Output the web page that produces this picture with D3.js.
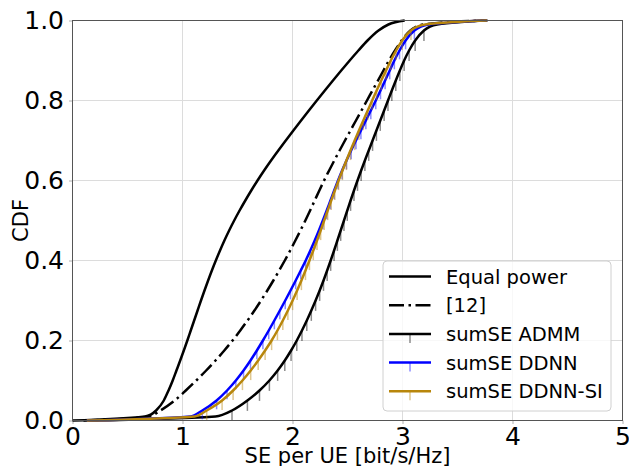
<!DOCTYPE html>
<html>
<head>
<meta charset="utf-8">
<script src="https://cdn.jsdelivr.net/npm/d3@7"></script>
<style>
  body { margin: 0; background: #fff; }
  svg { font-family: "DejaVu Sans", sans-serif; display: block; }
</style>
</head>
<body>
<div id="chart"></div>
<script>
// CDF levels shared by every curve (y values)
var cdfLevels = [0, 0.01, 0.025, 0.05, 0.075, 0.1, 0.125, 0.15, 0.175, 0.2,
  0.225, 0.25, 0.275, 0.3, 0.325, 0.35, 0.375, 0.4, 0.425, 0.45,
  0.475, 0.5, 0.525, 0.55, 0.575, 0.6, 0.625, 0.65, 0.675, 0.7,
  0.725, 0.75, 0.775, 0.8, 0.825, 0.85, 0.875, 0.9, 0.925, 0.95,
  0.975, 0.99, 1];

// SE per UE [bit/s/Hz] at each CDF level
var equalPower = [0.0, 0.66, 0.76, 0.83, 0.873, 0.911, 0.945, 0.979, 1.012, 1.044,
  1.075, 1.106, 1.137, 1.168, 1.2, 1.233, 1.267, 1.303, 1.341, 1.381,
  1.424, 1.47, 1.519, 1.571, 1.625, 1.682, 1.742, 1.805, 1.871, 1.939,
  2.008, 2.078, 2.149, 2.221, 2.294, 2.368, 2.443, 2.52, 2.599, 2.682,
  2.782, 2.872, 3.02];
var ref12 = [0.1, 0.7, 0.8, 0.93, 1.03, 1.125, 1.215, 1.3, 1.38, 1.455,
  1.525, 1.591, 1.654, 1.714, 1.771, 1.826, 1.879, 1.93, 1.979, 2.026,
  2.072, 2.117, 2.16, 2.202, 2.244, 2.287, 2.333, 2.38, 2.428, 2.477,
  2.527, 2.577, 2.627, 2.677, 2.727, 2.777, 2.827, 2.877, 2.932, 2.992,
  3.072, 3.19, 3.77];
var admm = [0.15, 1.3, 1.45, 1.59, 1.7, 1.79, 1.865, 1.93, 1.987, 2.039,
  2.086, 2.13, 2.171, 2.21, 2.247, 2.282, 2.315, 2.347, 2.378, 2.408,
  2.438, 2.468, 2.498, 2.528, 2.559, 2.591, 2.624, 2.658, 2.693, 2.728,
  2.763, 2.798, 2.833, 2.868, 2.903, 2.939, 2.976, 3.015, 3.06, 3.115,
  3.195, 3.315, 3.77];
var ddnn = [0.13, 1.07, 1.18, 1.31, 1.405, 1.485, 1.555, 1.618, 1.676, 1.731,
  1.784, 1.835, 1.885, 1.934, 1.982, 2.029, 2.075, 2.12, 2.162, 2.202,
  2.24, 2.276, 2.311, 2.345, 2.379, 2.414, 2.451, 2.491, 2.533, 2.577,
  2.622, 2.667, 2.712, 2.757, 2.8, 2.842, 2.884, 2.926, 2.973, 3.028,
  3.108, 3.24, 3.77];
var ddnnSi = [0.13, 1.11, 1.22, 1.36, 1.46, 1.545, 1.62, 1.688, 1.751, 1.81,
  1.863, 1.912, 1.958, 2.001, 2.042, 2.081, 2.118, 2.154, 2.189, 2.223,
  2.256, 2.288, 2.32, 2.352, 2.385, 2.419, 2.454, 2.49, 2.527, 2.565,
  2.604, 2.644, 2.684, 2.724, 2.765, 2.807, 2.85, 2.894, 2.942, 2.997,
  3.077, 3.207, 3.77];

// lower error of the error-bar series (in CDF units)
var admmErr = 0.026, ddnnErr = 0.022, ddnnSiErr = 0.024;

var seriesNames = ["Equal power", "[12]", "sumSE ADMM", "sumSE DDNN", "sumSE DDNN-SI"];
var xTicks = [0, 1, 2, 3, 4, 5];
var yTicks = [0, 0.2, 0.4, 0.6, 0.8, 1.0];

var series = [
  {name: seriesNames[0], xs: equalPower, color: "#000", dash: null, err: null},
  {name: seriesNames[1], xs: ref12, color: "#000", dash: "15,4.5,2.5,4.5", err: null},
  {name: seriesNames[2], xs: admm, color: "#000", dash: null, err: admmErr},
  {name: seriesNames[3], xs: ddnn, color: "#0000ff", dash: null, err: ddnnErr},
  {name: seriesNames[4], xs: ddnnSi, color: "#b8860b", dash: null, err: ddnnSiErr}
];

// set the dimensions and margins of the graph
var margin = {top: 20.5, right: 6.5, bottom: 45.5, left: 72.5},
    width = 629 - margin.left - margin.right,
    height = 466 - margin.top - margin.bottom;

var x = d3.scaleLinear().domain([0, 5]).range([0, width]);
var y = d3.scaleLinear().domain([0, 1]).range([height, 0]);

var svg = d3.select("#chart").append("svg")
    .attr("width", 629)
    .attr("height", 466)
  .append("g")
    .attr("transform", "translate(" + margin.left + "," + margin.top + ")");

// grid
svg.append("g").selectAll("line")
  .data(xTicks.slice(1, -1))
  .enter().append("line")
    .attr("x1", function(d) { return x(d); })
    .attr("x2", function(d) { return x(d); })
    .attr("y1", 0).attr("y2", height)
    .attr("stroke", "#dcdcdc").attr("stroke-width", 1);
svg.append("g").selectAll("line")
  .data(yTicks.slice(1, -1))
  .enter().append("line")
    .attr("y1", function(d) { return y(d); })
    .attr("y2", function(d) { return y(d); })
    .attr("x1", 0).attr("x2", width)
    .attr("stroke", "#dcdcdc").attr("stroke-width", 1);

// axes
var xAxis = svg.append("g")
    .attr("transform", "translate(0," + height + ")")
    .call(d3.axisBottom(x).tickValues(xTicks).tickFormat(d3.format("d")).tickSize(3.5).tickPadding(3.5));
var yAxis = svg.append("g")
    .call(d3.axisLeft(y).tickValues(yTicks).tickFormat(d3.format(".1f")).tickSize(3.5).tickPadding(5));
[xAxis, yAxis].forEach(function(a) {
  a.select(".domain").remove();
  a.selectAll(".tick line").attr("stroke", "#b0b0b0");
  a.selectAll("text").attr("font-size", "25px").attr("fill", "#000")
    .attr("font-family", "DejaVu Sans, sans-serif");
});

// curves
var line = d3.line()
    .x(function(d) { return x(d[0]); })
    .y(function(d) { return y(d[1]); })
    .curve(d3.curveMonotoneX);

series.forEach(function(s) {
  var pts = s.xs.map(function(v, i) { return [v, cdfLevels[i]]; });
  var g = svg.append("g");
  if (s.err !== null) {
    g.selectAll("line.err")
      .data(pts.slice(2, -2))
      .enter().append("line")
        .attr("class", "err")
        .attr("x1", function(d) { return x(d[0]); })
        .attr("x2", function(d) { return x(d[0]); })
        .attr("y1", function(d) { return y(d[1]); })
        .attr("y2", function(d) { return y(d[1] - s.err); })
        .attr("stroke", s.color)
        .attr("stroke-opacity", 0.45)
        .attr("stroke-width", 1.5);
  }
  g.append("path")
    .datum(pts)
    .attr("fill", "none")
    .attr("stroke", s.color)
    .attr("stroke-width", 2.5)
    .attr("stroke-dasharray", s.dash)
    .attr("d", line);
});

// spines
svg.append("rect")
  .attr("x", 0).attr("y", 0)
  .attr("width", width).attr("height", height)
  .attr("fill", "none")
  .attr("stroke", "#555")
  .attr("stroke-width", 1);

// legend
var legend = svg.append("g")
  .attr("transform", "translate(" + (383 - margin.left) + "," + (261 - margin.top) + ")");
legend.append("rect")
  .attr("width", 228).attr("height", 150)
  .attr("rx", 4)
  .attr("fill", "#fff").attr("fill-opacity", 0.8)
  .attr("stroke", "#d0d0d0").attr("stroke-width", 1);
series.forEach(function(s, i) {
  var ly = 15.5 + i * 28.7;
  var row = legend.append("g").attr("transform", "translate(0," + ly + ")");
  if (s.err !== null) {
    row.append("line")
      .attr("x1", 27).attr("x2", 27).attr("y1", 0).attr("y2", 9)
      .attr("stroke", s.color).attr("stroke-opacity", 0.45).attr("stroke-width", 1.5);
  }
  row.append("line")
    .attr("x1", 6).attr("x2", 48).attr("y1", 0).attr("y2", 0)
    .attr("stroke", s.color).attr("stroke-width", 2.5)
    .attr("stroke-dasharray", s.dash);
  row.append("text")
    .attr("x", 63).attr("y", 7)
    .attr("font-size", "19.5px")
    .text(s.name);
});

// axis labels
svg.append("text")
  .attr("x", width / 2).attr("y", height + 42)
  .attr("text-anchor", "middle")
  .attr("font-size", "21px")
  .text("SE per UE [bit/s/Hz]");
svg.append("text")
  .attr("transform", "translate(" + (-45) + "," + (height / 2) + ") rotate(-90)")
  .attr("text-anchor", "middle")
  .attr("font-size", "21px")
  .text("CDF");
</script>
</body>
</html>
